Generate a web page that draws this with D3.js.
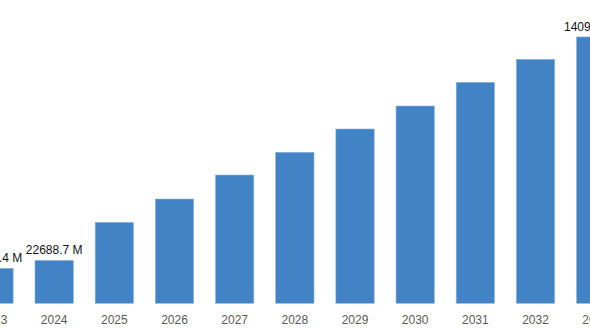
<!DOCTYPE html>
<html>
<head>
<meta charset="utf-8">
<script src="https://cdn.jsdelivr.net/npm/d3@7"></script>
<style>
  html, body { margin: 0; padding: 0; background: #fff; }
  svg { display: block; font-family: "Liberation Sans", Arial, Helvetica, sans-serif; }
</style>
</head>
<body>
<svg id="chart" width="590" height="334"></svg>
<script>
// Market size by year (USD million)
const years = ["2023", "2024", "2025", "2026", "2027", "2028", "2029", "2030", "2031", "2032", "2033"];
const values = [18521.4, 22688.7, 42857.0, 55185.0, 67884.0, 79894.0, 92222.0, 104392.0, 116931.0, 129101.0, 140946.2];
// Years whose bars carry a value label
const labelledYears = ["2023", "2024", "2033"];

const svg = d3.select("#chart");

// The band range runs past both edges of the view; the outer bars are clipped.
const x = d3.scaleBand()
  .domain(years)
  .range([-36.1, 625.8])
  .paddingInner(0.363)
  .paddingOuter(0.1815);

const y = d3.scaleLinear()
  .domain([0, 160000])
  .range([303.3, 0.9]);

const data = years.map((yr, i) => ({ year: yr, value: values[i] }));

svg.append("g")
  .selectAll("rect")
  .data(data)
  .join("rect")
  .attr("x", d => x(d.year))
  .attr("y", d => y(d.value))
  .attr("width", x.bandwidth())
  .attr("height", d => y(0) - y(d.value))
  .attr("fill", "#4183c5")
  .attr("stroke", "#8db5e0")
  .attr("stroke-width", 0.6);

svg.append("g")
  .selectAll("text")
  .data(data.filter(d => labelledYears.includes(d.year)))
  .join("text")
  .attr("x", d => x(d.year) + x.bandwidth() / 2)
  .attr("y", d => y(d.value) - 6)
  .attr("text-anchor", "middle")
  .attr("font-size", 12)
  .attr("fill", "#111")
  .text(d => d3.format(".1f")(d.value) + " M");

const axis = svg.append("g")
  .attr("transform", `translate(0,${y(0)})`)
  .call(d3.axisBottom(x).tickSize(0).tickPadding(12));
axis.select(".domain").remove();
axis.selectAll("text")
  .attr("font-size", 12)
  .attr("font-family", "\"Liberation Sans\", Arial, Helvetica, sans-serif")
  .attr("fill", "#595959");
</script>
</body>
</html>
